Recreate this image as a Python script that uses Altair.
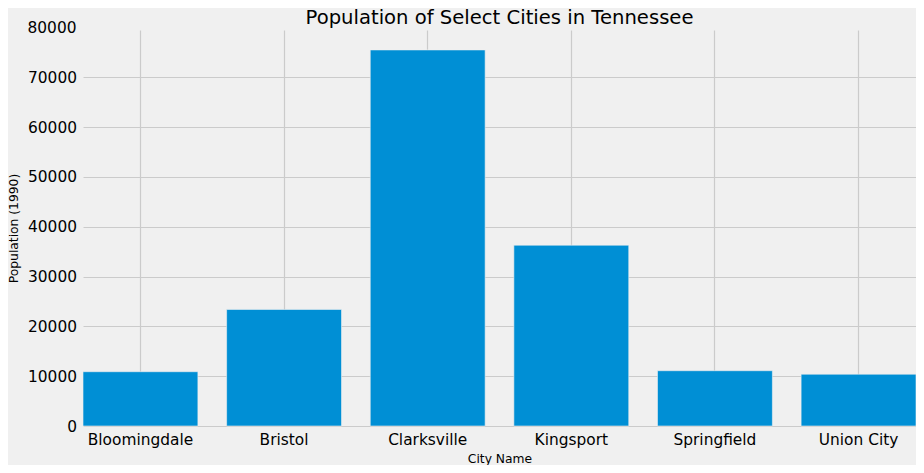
import altair as alt
import pandas as pd

cities = ["Bloomingdale", "Bristol", "Clarksville", "Kingsport", "Springfield", "Union City"]
population = [10900, 23400, 75500, 36300, 11100, 10400]
y_ticks = [0, 10000, 20000, 30000, 40000, 50000, 60000, 70000]
y_top_tick = [80000]

df = pd.DataFrame({"City Name": cities, "Population (1990)": population})
top_df = pd.DataFrame({"tick": y_top_tick, "label": [str(v) for v in y_top_tick]})

FONT = "DejaVu Sans"
Y_SCALE = alt.Scale(domain=[0, 79500], nice=False, zero=True)

bars = alt.Chart(df).mark_bar(
    color="#008fd5", stroke="#f0f0f0", strokeWidth=0.6
).encode(
    x=alt.X(
        "City Name:N",
        sort=cities,
        scale=alt.Scale(paddingInner=0.2, paddingOuter=0),
        axis=alt.Axis(
            title="City Name",
            labelAngle=0,
            labelFontSize=15.4,
            labelFont=FONT,
            labelColor="#000000",
            labelPadding=6,
            titleFontSize=12.3,
            titleFont=FONT,
            titleFontWeight="normal",
            titleColor="#000000",
            titlePadding=5.5,
            grid=True,
            bandPosition=0.5,
            gridColor="#cbcbcb",
            gridWidth=1.2,
            domain=False,
            ticks=False,
        ),
    ),
    y=alt.Y(
        "Population (1990):Q",
        scale=Y_SCALE,
        axis=alt.Axis(
            title="Population (1990)",
            values=y_ticks,
            format="d",
            labelFontSize=15.4,
            labelFont=FONT,
            labelColor="#000000",
            labelPadding=6.5,
            titleFontSize=12.3,
            titleFont=FONT,
            titleFontWeight="normal",
            titleColor="#000000",
            titlePadding=7,
            grid=True,
            gridColor="#cbcbcb",
            gridWidth=1.2,
            domain=False,
            ticks=False,
        ),
    ),
)

top_label = alt.Chart(top_df).mark_text(
    align="right", baseline="middle", fontSize=15.4, font=FONT, color="#000000", clip=False
).encode(
    x=alt.value(-6.5),
    y=alt.Y("tick:Q", scale=Y_SCALE),
    text="label:N",
)

chart = alt.layer(bars, top_label).properties(
    width=833,
    height=396,
    title=alt.TitleParams(
        "Population of Select Cities in Tennessee",
        fontSize=19.6,
        font=FONT,
        fontWeight="normal",
        color="#000000",
        anchor="middle",
        offset=-8.5,
    ),
    autosize=alt.AutoSizeParams(type="none"),
    padding={"left": 75, "top": 22, "right": 0, "bottom": 39},
    background="#f0f0f0",
).configure_view(
    stroke=None,
    fill="#f0f0f0",
)

chart.save("out.html", embed_options={"renderer": "svg", "actions": False})
